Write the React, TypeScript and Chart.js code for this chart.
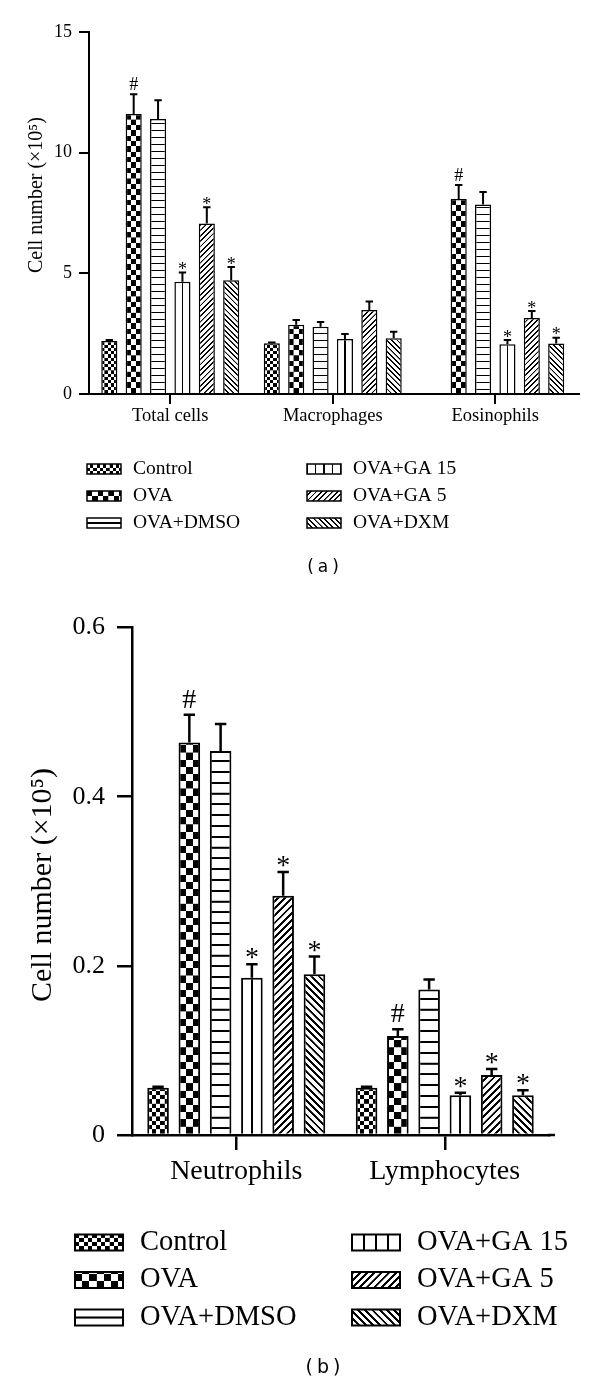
import React, { useEffect, useRef } from 'react';
import { Chart, registerables } from 'chart.js';

Chart.register(...registerables);

const SERIF = '"Liberation Serif", "Times New Roman", serif';
const SANS = '"DejaVu Sans", Verdana, sans-serif';

// ---------- shared ----------
const SERIES = ['Control', 'OVA', 'OVA+DMSO', 'OVA+GA 15', 'OVA+GA 5', 'OVA+DXM'];
const FILLS = ['fineCheck', 'check', 'hlines', 'vlines', 'fwd', 'back'];
const Y_TITLE = 'Cell number (×10⁵)';

// ---------- panel (a) ----------
const A_CATEGORIES = ['Total cells', 'Macrophages', 'Eosinophils'];
const A_CONTROL = [2.2, 2.1, null];
const A_OVA = [11.6, 2.87, 8.08];
const A_DMSO = [11.4, 2.79, 7.85];
const A_GA15 = [4.65, 2.28, 2.06];
const A_GA5 = [7.06, 3.48, 3.15];
const A_DXM = [4.71, 2.31, 2.09];
const A_CONTROL_SEM = [0.04, 0.03, 0];
const A_OVA_SEM = [0.82, 0.2, 0.58];
const A_DMSO_SEM = [0.77, 0.19, 0.52];
const A_GA15_SEM = [0.38, 0.21, 0.18];
const A_GA5_SEM = [0.68, 0.35, 0.29];
const A_DXM_SEM = [0.55, 0.27, 0.24];
const A_OVA_MARKS = ['#', '', '#'];
const A_TREAT_MARKS = ['*', '', '*'];
const A_NO_MARKS = ['', '', ''];
const A_Y_MAX = 15;
const A_Y_STEP = 5;

// ---------- panel (b) ----------
const B_CATEGORIES = ['Neutrophils', 'Lymphocytes'];
const B_CONTROL = [0.056, 0.056];
const B_OVA = [0.464, 0.117];
const B_DMSO = [0.454, 0.172];
const B_GA15 = [0.186, 0.047];
const B_GA5 = [0.283, 0.071];
const B_DXM = [0.19, 0.047];
const B_CONTROL_SEM = [0.001, 0.001];
const B_OVA_SEM = [0.033, 0.008];
const B_DMSO_SEM = [0.032, 0.012];
const B_GA15_SEM = [0.016, 0.003];
const B_GA5_SEM = [0.028, 0.007];
const B_DXM_SEM = [0.021, 0.006];
const B_OVA_MARKS = ['#', '#'];
const B_TREAT_MARKS = ['*', '*'];
const B_NO_MARKS = ['', ''];
const B_Y_MAX = 0.6;
const B_Y_STEP = 0.2;

type Spec = {
  top: number; height: number;
  categories: string[];
  values: (number | null)[][];
  sems: number[][];
  marks: string[][];
  yMax: number; yStep: number;
  area: { left: number; top: number; right: number; bottom: number };
  axisExtendRight: number;
  fontTick: number; fontCat: number; fontTitle: number; fontLegend: number; fontMark: number; fontCaption: number;
  tickLen: number; yTickPad: number; xTickPad: number;
  axisLw: number; barBw: number; patLw: number; errLw: number; cap: number;
  catPct: number; barPct: number; hlineP: number;
  title: { x: number; y: number };
  legend: { rows: number[]; cols: { swX: number; txX: number }[]; swW: number; swH: number };
  caption: { text: string; x: number; y: number };
  gapHash: number; gapStar: number;
};

const SPEC_A: Spec = {
  top: 0, height: 600,
  categories: A_CATEGORIES,
  values: [A_CONTROL, A_OVA, A_DMSO, A_GA15, A_GA5, A_DXM],
  sems: [A_CONTROL_SEM, A_OVA_SEM, A_DMSO_SEM, A_GA15_SEM, A_GA5_SEM, A_DXM_SEM],
  marks: [A_NO_MARKS, A_OVA_MARKS, A_NO_MARKS, A_TREAT_MARKS, A_TREAT_MARKS, A_TREAT_MARKS],
  yMax: A_Y_MAX, yStep: A_Y_STEP,
  area: { left: 89, top: 32, right: 576.5, bottom: 394 },
  axisExtendRight: 3.5,
  fontTick: 18, fontCat: 18.5, fontTitle: 20, fontLegend: 19.5, fontMark: 18, fontCaption: 17,
  tickLen: 10, yTickPad: 7, xTickPad: 1,
  axisLw: 2, barBw: 1.5, patLw: 1.3, errLw: 2, cap: 3.7,
  catPct: 0.9, barPct: 0.66, hlineP: 7,
  title: { x: 37, y: 195 },
  legend: { rows: [469, 496, 523], cols: [{ swX: 87, txX: 133 }, { swX: 307, txX: 353 }], swW: 34, swH: 10 },
  caption: { text: '(a)', x: 323, y: 568 },
  gapHash: 4, gapStar: 2,
};

const SPEC_B: Spec = {
  top: 600, height: 784,
  categories: B_CATEGORIES,
  values: [B_CONTROL, B_OVA, B_DMSO, B_GA15, B_GA5, B_DXM],
  sems: [B_CONTROL_SEM, B_OVA_SEM, B_DMSO_SEM, B_GA15_SEM, B_GA5_SEM, B_DXM_SEM],
  marks: [B_NO_MARKS, B_OVA_MARKS, B_NO_MARKS, B_TREAT_MARKS, B_TREAT_MARKS, B_TREAT_MARKS],
  yMax: B_Y_MAX, yStep: B_Y_STEP,
  area: { left: 132, top: 20, right: 549, bottom: 535 },
  axisExtendRight: 6,
  fontTick: 26, fontCat: 28, fontTitle: 30, fontLegend: 28.5, fontMark: 28, fontCaption: 19,
  tickLen: 15, yTickPad: 12, xTickPad: 5,
  axisLw: 2.5, barBw: 2, patLw: 2, errLw: 2.5, cap: 5.7,
  catPct: 0.9, barPct: 0.69, hlineP: 10.8,
  title: { x: 43, y: 285 },
  legend: { rows: [642.5, 680, 717.5], cols: [{ swX: 75, txX: 140 }, { swX: 352, txX: 417 }], swW: 48, swH: 16 },
  caption: { text: '(b)', x: 323, y: 767.7 },
  gapHash: 7, gapStar: 5,
};

const T = 64;

function makeTile(kind: string, lwT: number): HTMLCanvasElement {
  const c = document.createElement('canvas');
  c.width = T; c.height = T;
  const g = c.getContext('2d')!;
  g.fillStyle = '#fff';
  g.fillRect(0, 0, T, T);
  g.fillStyle = '#000';
  g.strokeStyle = '#000';
  g.lineWidth = lwT;
  g.lineCap = 'butt';
  const h = T / 2;
  if (kind === 'fineCheck' || kind === 'check') {
    g.fillRect(0, 0, h, h);
    g.fillRect(h, h, h, h);
  } else if (kind === 'hlines') {
    g.fillRect(0, h - lwT / 2, T, lwT);
  } else if (kind === 'vlines') {
    g.fillRect(0, 0, lwT / 2, T);
    g.fillRect(T - lwT / 2, 0, lwT / 2, T);
  } else if (kind === 'fwd') {
    g.beginPath();
    g.moveTo(-10, T + 10); g.lineTo(T + 10, -10);
    g.moveTo(-10, 10); g.lineTo(10, -10);
    g.moveTo(T - 10, T + 10); g.lineTo(T + 10, T - 10);
    g.stroke();
  } else if (kind === 'back') {
    g.beginPath();
    g.moveTo(-10, -10); g.lineTo(T + 10, T + 10);
    g.moveTo(T - 10, -10); g.lineTo(T + 10, 10);
    g.moveTo(-10, T - 10); g.lineTo(10, T + 10);
    g.stroke();
  }
  return c;
}

type Pat = { pat: CanvasPattern; P: number; kind: string };

function Panel({ spec }: { spec: Spec }) {
  const ref = useRef<HTMLCanvasElement>(null);
  useEffect(() => {
    const canvas = ref.current!;
    const helper = document.createElement('canvas').getContext('2d')!;
    const nCat = spec.categories.length;
    const barW = ((spec.area.right - spec.area.left) / nCat) * spec.catPct / SERIES.length * spec.barPct;
    const periods: Record<string, number> = {
      fineCheck: (2 * barW) / 5,
      check: (2 * barW) / 3,
      hlines: spec.hlineP,
      vlines: barW / 2,
      fwd: barW / 3,
      back: barW / 3,
    };
    const mk = (kind: string, P: number): Pat => {
      const lw = kind === 'fineCheck' || kind === 'check' ? 1 : spec.patLw;
      const pat = helper.createPattern(makeTile(kind, (lw * T) / P), 'repeat')!;
      return { pat, P, kind };
    };
    const barPats: Pat[][] = SERIES.map((_, di) => spec.categories.map(() => mk(FILLS[di], periods[FILLS[di]])));
    const legPats: Pat[] = SERIES.map((_, di) =>
      mk(FILLS[di], FILLS[di] === 'vlines' ? spec.legend.swW / 4 : periods[FILLS[di]])
    );

    const alignPlugin = {
      id: 'alignPatterns',
      beforeDatasetsDraw(chart: any) {
        chart.data.datasets.forEach((_: any, di: number) => {
          const meta = chart.getDatasetMeta(di);
          meta.data.forEach((el: any, j: number) => {
            const p = el.getProps(['x', 'width', 'base'], true);
            if (!isFinite(p.x) || !isFinite(p.base)) return;
            const o = barPats[di][j];
            const k = o.P / T;
            o.pat.setTransform(new DOMMatrix([k, 0, 0, k, p.x - p.width / 2, p.base]));
          });
        });
      },
    };

    const errPlugin = {
      id: 'errorBars',
      afterDatasetsDraw(chart: any) {
        const ctx = chart.ctx as CanvasRenderingContext2D;
        const ys = chart.scales.y;
        chart.data.datasets.forEach((ds: any, di: number) => {
          const meta = chart.getDatasetMeta(di);
          meta.data.forEach((el: any, j: number) => {
            const v = ds.data[j];
            if (v == null) return;
            const sem = spec.sems[di][j];
            const p = el.getProps(['x', 'y'], true);
            const top = ys.getPixelForValue(v + sem);
            ctx.save();
            ctx.strokeStyle = '#000';
            ctx.lineWidth = spec.errLw;
            ctx.beginPath();
            ctx.moveTo(p.x, p.y);
            ctx.lineTo(p.x, top);
            ctx.moveTo(p.x - spec.cap, top);
            ctx.lineTo(p.x + spec.cap, top);
            ctx.stroke();
            const m = spec.marks[di][j];
            if (m) {
              ctx.fillStyle = '#000';
              ctx.font = `${spec.fontMark}px ${SERIF}`;
              ctx.textAlign = 'center';
              ctx.textBaseline = 'alphabetic';
              const baseY = m === '#' ? top - spec.gapHash : top - spec.gapStar + 0.26 * spec.fontMark;
              ctx.fillText(m, p.x, baseY);
            }
            ctx.restore();
          });
        });
      },
    };

    const decorPlugin = {
      id: 'decor',
      afterDraw(chart: any) {
        const ctx = chart.ctx as CanvasRenderingContext2D;
        const ca = chart.chartArea;
        ctx.save();
        // axis tail on the right
        ctx.strokeStyle = '#000';
        ctx.lineWidth = spec.axisLw;
        ctx.beginPath();
        ctx.moveTo(ca.right - 1, ca.bottom);
        ctx.lineTo(ca.right + spec.axisExtendRight, ca.bottom);
        ctx.stroke();
        // y title
        ctx.save();
        ctx.translate(spec.title.x, spec.title.y);
        ctx.rotate(-Math.PI / 2);
        ctx.fillStyle = '#000';
        ctx.font = `${spec.fontTitle}px ${SERIF}`;
        ctx.textAlign = 'center';
        ctx.textBaseline = 'middle';
        ctx.fillText(Y_TITLE, 0, 0);
        ctx.restore();
        // legend
        const L = spec.legend;
        SERIES.forEach((name, di) => {
          const col = L.cols[Math.floor(di / 3)];
          const cy = L.rows[di % 3];
          const x0 = col.swX;
          const y0 = cy - L.swH / 2;
          const o = legPats[di];
          const k = o.P / T;
          const ty = o.kind === 'hlines' ? cy - o.P / 2 : y0 + L.swH;
          o.pat.setTransform(new DOMMatrix([k, 0, 0, k, x0, ty]));
          ctx.fillStyle = o.pat;
          ctx.fillRect(x0, y0, L.swW, L.swH);
          ctx.strokeStyle = '#000';
          ctx.lineWidth = spec.barBw;
          ctx.strokeRect(x0, y0, L.swW, L.swH);
          ctx.fillStyle = '#000';
          ctx.font = `${spec.fontLegend}px ${SERIF}`;
          ctx.textAlign = 'left';
          ctx.textBaseline = 'middle';
          ctx.fillText(name, col.txX, cy);
        });
        // caption
        ctx.fillStyle = '#000';
        ctx.font = `${spec.fontCaption}px ${SANS}`;
        ctx.textAlign = 'center';
        ctx.textBaseline = 'middle';
        try { (ctx as any).letterSpacing = '4px'; } catch (e) { /* ignore */ }
        ctx.fillText(spec.caption.text, spec.caption.x + 2, spec.caption.y);
        try { (ctx as any).letterSpacing = '0px'; } catch (e) { /* ignore */ }
        ctx.restore();
      },
    };

    const chart = new Chart(canvas, {
      type: 'bar',
      data: {
        labels: spec.categories,
        datasets: SERIES.map((name, di) => ({
          label: name,
          data: spec.values[di] as any,
          backgroundColor: barPats[di].map((o) => o.pat) as any,
          borderColor: '#000',
          borderWidth: spec.barBw,
          categoryPercentage: spec.catPct,
          barPercentage: spec.barPct,
        })),
      },
      options: {
        responsive: false,
        devicePixelRatio: 1,
        animation: false,
        events: [],
        layout: { padding: { top: spec.area.top, right: 600 - spec.area.right, left: 0, bottom: 0 } },
        plugins: { legend: { display: false }, tooltip: { enabled: false } },
        scales: {
          x: {
            z: 1,
            grid: {
              display: true, drawOnChartArea: false, drawTicks: true, tickLength: spec.tickLen,
              offset: false, color: '#000', lineWidth: spec.axisLw,
            },
            border: { display: true, color: '#000', width: spec.axisLw },
            ticks: { color: '#000', font: { family: SERIF, size: spec.fontCat }, padding: spec.xTickPad, maxRotation: 0 },
            afterFit: (s: any) => { s.height = spec.height - spec.area.bottom; },
          },
          y: {
            min: 0, max: spec.yMax,
            ticks: { stepSize: spec.yStep, color: '#000', font: { family: SERIF, size: spec.fontTick }, padding: spec.yTickPad },
            grid: { drawOnChartArea: false, drawTicks: true, tickLength: spec.tickLen, color: '#000', lineWidth: spec.axisLw },
            border: { display: true, color: '#000', width: spec.axisLw },
            afterFit: (s: any) => { s.width = spec.area.left; },
          },
        },
      } as any,
      plugins: [alignPlugin, errPlugin, decorPlugin],
    });
    return () => chart.destroy();
  }, [spec]);
  return (
    <canvas
      ref={ref}
      width={600}
      height={spec.height}
      style={{ position: 'absolute', left: 0, top: spec.top, width: 600, height: spec.height }}
    />
  );
}

export default function App() {
  return (
    <div style={{ position: 'absolute', left: 0, top: 0, width: 600, height: 1384, background: '#fff' }}>
      <Panel spec={SPEC_A} />
      <Panel spec={SPEC_B} />
    </div>
  );
}
